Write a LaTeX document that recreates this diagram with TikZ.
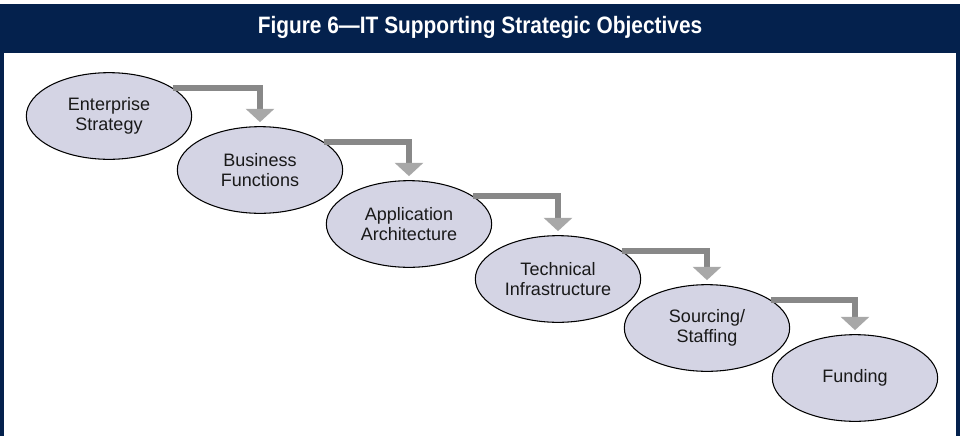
\documentclass[tikz,border=0pt]{standalone}
\usepackage{fontspec}
\setmainfont{Liberation Sans}
\newfontfamily\titlefont[FakeStretch=0.88]{Liberation Sans}
\usetikzlibrary{positioning, shapes.geometric, arrows.meta}
\definecolor{NavyColor}{RGB}{4,33,77}
\definecolor{StageColor}{RGB}{212,212,228}
\definecolor{ShaftColor}{RGB}{136,136,136}
\definecolor{HeadColor}{RGB}{168,168,168}

\begin{document}
\begin{tikzpicture}[
    x=0.75pt, y=-0.75pt,
    stage/.style={ellipse, draw, line width=0.8pt, fill=StageColor, inner sep=0pt,
        minimum width=124pt, minimum height=65pt, align=center,
        font=\fontsize{13.5}{15.5}\selectfont, text=black!90},
    flow/.style={draw=ShaftColor, line width=4.2pt, shorten >=3pt,
        -{Triangle[width=21pt, length=10pt, color=HeadColor]}}
]

%%%%%%%%%%%%%%%%%%%%%%%%%%%%%%%%%%%%%%%%%%%%%%%%%%%%%%%%%%%%%%%%%%%
% Frame and title
%%%%%%%%%%%%%%%%%%%%%%%%%%%%%%%%%%%%%%%%%%%%%%%%%%%%%%%%%%%%%%%%%%%
\useasboundingbox (0,0) rectangle (960,436);
\fill[NavyColor] (0,4) rectangle (960,436);
\fill[white] (4,53) rectangle (956,436);
\node[font=\titlefont\bfseries\fontsize{17.8}{21}\selectfont, text=white]
    (title) at (480,27) {Figure 6—IT Supporting Strategic Objectives};

%%%%%%%%%%%%%%%%%%%%%%%%%%%%%%%%%%%%%%%%%%%%%%%%%%%%%%%%%%%%%%%%%%%
% Stages
%%%%%%%%%%%%%%%%%%%%%%%%%%%%%%%%%%%%%%%%%%%%%%%%%%%%%%%%%%%%%%%%%%%
\node[stage] (strategy) at (109, 116) {Enterprise\\Strategy};
\node[stage] (business) at (260, 170) {Business\\Functions};
\node[stage] (application) at (409, 224) {Application\\Architecture};
\node[stage] (technical) at (558, 279) {Technical\\Infrastructure};
\node[stage] (sourcing) at (707, 328) {Sourcing/\\Staffing};
\node[stage] (funding) at (855, 378) {Funding};

%%%%%%%%%%%%%%%%%%%%%%%%%%%%%%%%%%%%%%%%%%%%%%%%%%%%%%%%%%%%%%%%%%%
% Connections
%%%%%%%%%%%%%%%%%%%%%%%%%%%%%%%%%%%%%%%%%%%%%%%%%%%%%%%%%%%%%%%%%%%
\draw[flow] (strategy.24) -| (business.north);
\draw[flow] (business.24) -| (application.north);
\draw[flow] (application.24) -| (technical.north);
\draw[flow] (technical.24) -| (sourcing.north);
\draw[flow] (sourcing.24) -| (funding.north);

\end{tikzpicture}
\end{document}
